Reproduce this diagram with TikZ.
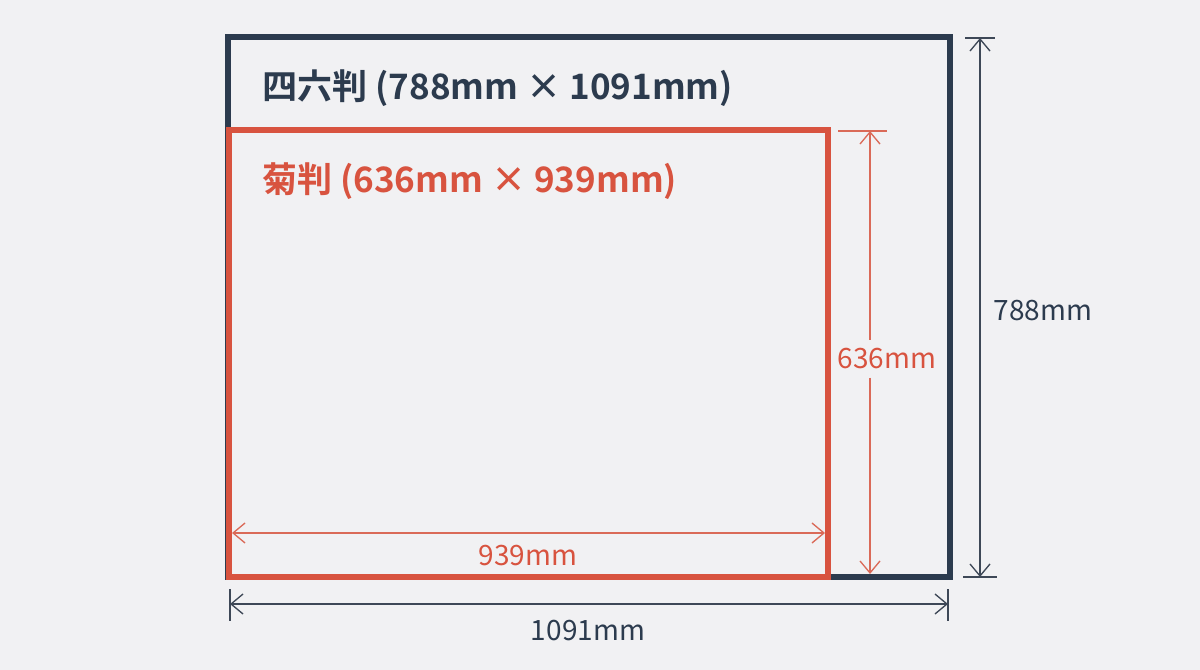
\documentclass[tikz,border=0pt]{standalone}
\usepackage{fontspec}
\setmainfont{Noto Sans CJK JP}
\newfontfamily\titlefont{Noto Sans CJK JP Bold}
\usetikzlibrary{arrows.meta}
\definecolor{bgc}{HTML}{F1F1F3}
\definecolor{navy}{HTML}{2C3B4E}
\definecolor{navydim}{HTML}{3E4857}
\definecolor{redc}{HTML}{D8533F}
\definecolor{reddim}{HTML}{DA6A58}
\begin{document}
\begin{tikzpicture}[x=0.75pt,y=-0.75pt,
  frame/.style={line width=3.8pt},
  dimline/.style={line width=1pt},
  tip/.style={arrows={Straight Barb[length=9pt,width=15pt,line width=1pt]-Straight Barb[length=9pt,width=15pt,line width=1pt]}},
  tick/.style={line width=1.3pt},
  title/.style={font=\titlefont\fontsize{26.3}{31}\selectfont,anchor=west,inner sep=0pt},
  dimlabel/.style={font=\fontsize{21}{25}\selectfont,inner sep=1pt}]
\fill[bgc] (0,0) rectangle (1200,670);
\useasboundingbox (0,0) rectangle (1200,670);
% outer sheet
\draw[frame,navy] (228,37) rectangle (950,577);
\node[title,text=navy] (t46) at (262,88) {四六判 (788mm × 1091mm)};
% inner sheet
\draw[frame,redc] (229,130) rectangle (828,577);
\node[title,text=redc] (tkiku) at (262,181) {菊判 (636mm × 939mm)};
% 939mm
\coordinate (w1) at (232,533);
\coordinate (w2) at (825,533);
\draw[dimline,reddim,tip] (w1) -- (w2);
\node[dimlabel,text=redc] (l939) at (528,556) {939mm};
% 636mm
\coordinate (h1) at (870,131);
\coordinate (h2) at (870,574);
\coordinate (h1a) at (838,131);
\coordinate (h1b) at (887,131);
\draw[tick,reddim] (h1a) -- (h1b);
\node[dimlabel,text=redc,fill=bgc,inner ysep=6pt] (l636) at (887,359) {636mm};
\draw[dimline,reddim,arrows={Straight Barb[length=9pt,width=15pt,line width=1pt]-}] (h1) -- (l636.north -| h1);
\draw[dimline,reddim,arrows={-Straight Barb[length=9pt,width=15pt,line width=1pt]}] (l636.south -| h2) -- (h2);
% 788mm
\coordinate (v1) at (980,38);
\coordinate (v2) at (980,577);
\coordinate (v1a) at (965,38);
\coordinate (v1b) at (995,38);
\coordinate (v2a) at (963,577);
\coordinate (v2b) at (997,577);
\draw[tick,navydim] (v1a) -- (v1b);
\draw[tick,navydim] (v2a) -- (v2b);
\draw[dimline,navydim,tip] (v1) -- (v2);
\node[dimlabel,text=navy] (l788) at (1043,311) {788mm};
% 1091mm
\coordinate (b1) at (230,604);
\coordinate (b2) at (948,604);
\coordinate (b1a) at (230,589);
\coordinate (b1b) at (230,621);
\coordinate (b2a) at (948,589);
\coordinate (b2b) at (948,621);
\draw[tick,navydim] (b1a) -- (b1b);
\draw[tick,navydim] (b2a) -- (b2b);
\draw[dimline,navydim,tip] (b1) -- (b2);
\node[dimlabel,text=navy] (l1091) at (588,631) {1091mm};
\end{tikzpicture}
\end{document}
